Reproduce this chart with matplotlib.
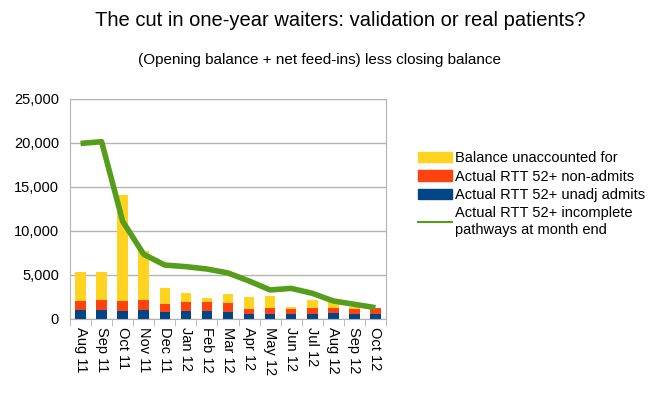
import matplotlib.pyplot as plt
import numpy as np
from matplotlib.patches import Patch
from matplotlib.lines import Line2D

plt.rcParams['font.family'] = ['Liberation Sans', 'DejaVu Sans']

months = ['Aug 11', 'Sep 11', 'Oct 11', 'Nov 11', 'Dec 11', 'Jan 12', 'Feb 12', 'Mar 12',
          'Apr 12', 'May 12', 'Jun 12', 'Jul 12', 'Aug 12', 'Sep 12', 'Oct 12']
# stacked bar components
admits = [1060, 1060, 950, 985, 760, 870, 870, 760, 530, 570, 600, 600, 640, 600, 570]
non_admits = [1020, 1140, 1100, 1175, 985, 1100, 1100, 1060, 570, 720, 575, 690, 570, 575, 720]
unaccounted = [3260, 3100, 12040, 5530, 1820, 985, 455, 985, 1400, 1325, 190, 870, 760, 230, 0]
# line: incomplete pathways at month end
incomplete = [19950, 20150, 11100, 7350, 6130, 5950, 5680, 5230, 4320, 3300, 3480, 2920, 2050, 1670, 1290]

c_yellow = '#FFD320'
c_orange = '#FF420E'
c_blue = '#004586'
c_green = '#579D1C'

fig = plt.figure(figsize=(6.56, 3.96), dpi=100)
ax = fig.add_axes([70 / 656, 1 - 319 / 396, 316 / 656, 220 / 396])

x = np.arange(len(months))
a = np.array(admits)
n = np.array(non_admits)
u = np.array(unaccounted)
ax.bar(x, a, width=0.5, color=c_blue, zorder=2)
ax.bar(x, n, width=0.5, bottom=a, color=c_orange, zorder=2)
ax.bar(x, u, width=0.5, bottom=a + n, color=c_yellow, zorder=2)
ax.plot(x, incomplete, color=c_green, lw=4, solid_capstyle='butt', zorder=3)

ax.set_xlim(-0.5, len(months) - 0.5)
ax.set_ylim(0, 25000)
ax.set_yticks(range(0, 25001, 5000))
ax.set_yticklabels([f'{v:,}' for v in range(0, 25001, 5000)], fontsize=10.5)
ax.yaxis.grid(True, color='#b3b3b3', lw=1, zorder=0)
ax.tick_params(axis='y', length=0, pad=8)

ax.set_xticks(x)
ax.set_xticklabels(months, rotation=270, fontsize=10.5)
ax.tick_params(axis='x', length=0, pad=6)
ax.set_xticks(np.arange(-0.5, len(months)), minor=True)
ax.tick_params(axis='x', which='minor', length=5, color='#b3b3b3')

ax.spines['top'].set_visible(False)
ax.spines['right'].set_color('#b3b3b3')
ax.spines['left'].set_color('#b3b3b3')
ax.spines['bottom'].set_color('#b3b3b3')

fig.text(340 / 656, 1 - 21 / 396, 'The cut in one-year waiters: validation or real patients?',
         ha='center', va='center', fontsize=14.5)
fig.text(320 / 656, 1 - 60 / 396, '(Opening balance + net feed-ins) less closing balance',
         ha='center', va='center', fontsize=11)

handles = [Patch(color=c_yellow), Patch(color=c_orange), Patch(color=c_blue),
           Line2D([0], [0], color=c_green, lw=1.5)]
labels = ['Balance unaccounted for', 'Actual RTT 52+ non-admits', 'Actual RTT 52+ unadj admits',
          'Actual RTT 52+ incomplete\npathways at month end']
fig.legend(handles, labels, loc='upper left', bbox_to_anchor=(411 / 656, 1 - 144 / 396),
           frameon=False, fontsize=10.5, handlelength=2.3, handleheight=0.7,
           handletextpad=0.25, labelspacing=0.3, borderpad=0)

fig.savefig('out.png', dpi=100)
